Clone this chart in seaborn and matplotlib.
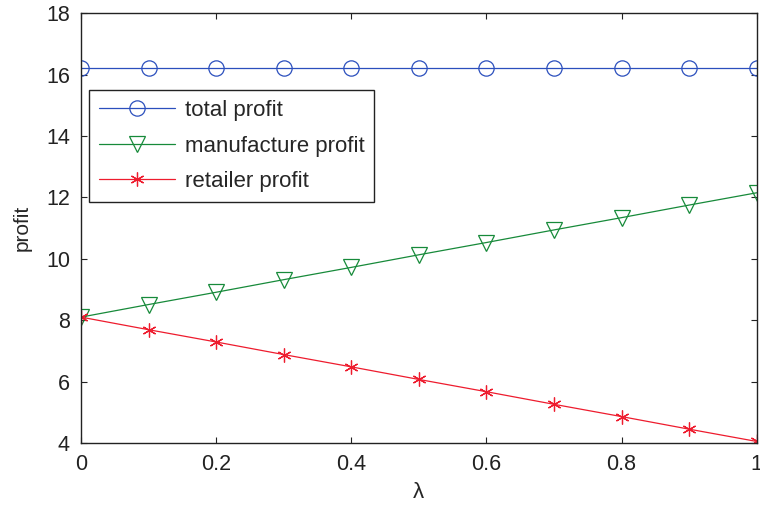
import numpy as np
import pandas as pd
import matplotlib
matplotlib.use("Agg")
import matplotlib.pyplot as plt
import seaborn as sns

lam = [0.0, 0.1, 0.2, 0.3, 0.4, 0.5, 0.6, 0.7, 0.8, 0.9, 1.0]
total_profit = [16.2, 16.2, 16.2, 16.2, 16.2, 16.2, 16.2, 16.2, 16.2, 16.2, 16.2]
manufacture_profit = [8.10, 8.51, 8.91, 9.32, 9.72, 10.13, 10.53, 10.94, 11.34, 11.75, 12.15]
retailer_profit = [8.10, 7.69, 7.29, 6.88, 6.48, 6.07, 5.67, 5.26, 4.86, 4.45, 4.05]

sns.set_style("ticks")
plt.rcParams["font.family"] = ["Liberation Sans", "DejaVu Sans"]

df = pd.DataFrame({"lam": lam, "total": total_profit,
                   "manufacture": manufacture_profit, "retailer": retailer_profit})

fig = plt.figure(figsize=(7.6, 5.08), dpi=100)
ax = fig.add_axes([0.1066, 0.128, 0.889, 0.846])

sns.lineplot(data=df, x="lam", y="total", ax=ax, color="#2b4fbd", lw=0.9,
             marker="o", ms=11, mfc="none", mec="#2b4fbd", mew=0.9,
             label="total profit")
sns.lineplot(data=df, x="lam", y="manufacture", ax=ax, color="#178a3a", lw=0.9,
             marker="v", ms=12, mfc="none", mec="#178a3a", mew=0.9,
             label="manufacture profit")
sns.lineplot(data=df, x="lam", y="retailer", ax=ax, color="#ee1c2e", lw=0.9,
             marker=(6, 2, 0), ms=10, mfc="none", mec="#ee1c2e", mew=0.9,
             label="retailer profit")

ax.set_xlim(0, 1)
ax.set_ylim(4, 18)
ax.set_xticks([0, 0.2, 0.4, 0.6, 0.8, 1])
ax.set_xticklabels(["0", "0.2", "0.4", "0.6", "0.8", "1"])
ax.set_yticks([4, 6, 8, 10, 12, 14, 16, 18])
ax.tick_params(direction="in", top=True, right=True, length=4, width=0.8,
               labelsize=15.5, colors="#222222", pad=8)
for s in ax.spines.values():
    s.set_linewidth(1.0)
    s.set_color("#222222")
    s.set_visible(True)
ax.set_xlabel("λ", fontsize=16, labelpad=5)
ax.set_ylabel("profit", fontsize=15, labelpad=10)

leg = ax.legend(loc="upper left", bbox_to_anchor=(0.012, 0.821), borderaxespad=0,
                fontsize=16, handlelength=3.4, fancybox=False, edgecolor="#222222",
                framealpha=1, borderpad=0.45, labelspacing=0.65, handletextpad=0.45)
leg.get_frame().set_linewidth(1.0)

fig.savefig("out.png", dpi=100)
